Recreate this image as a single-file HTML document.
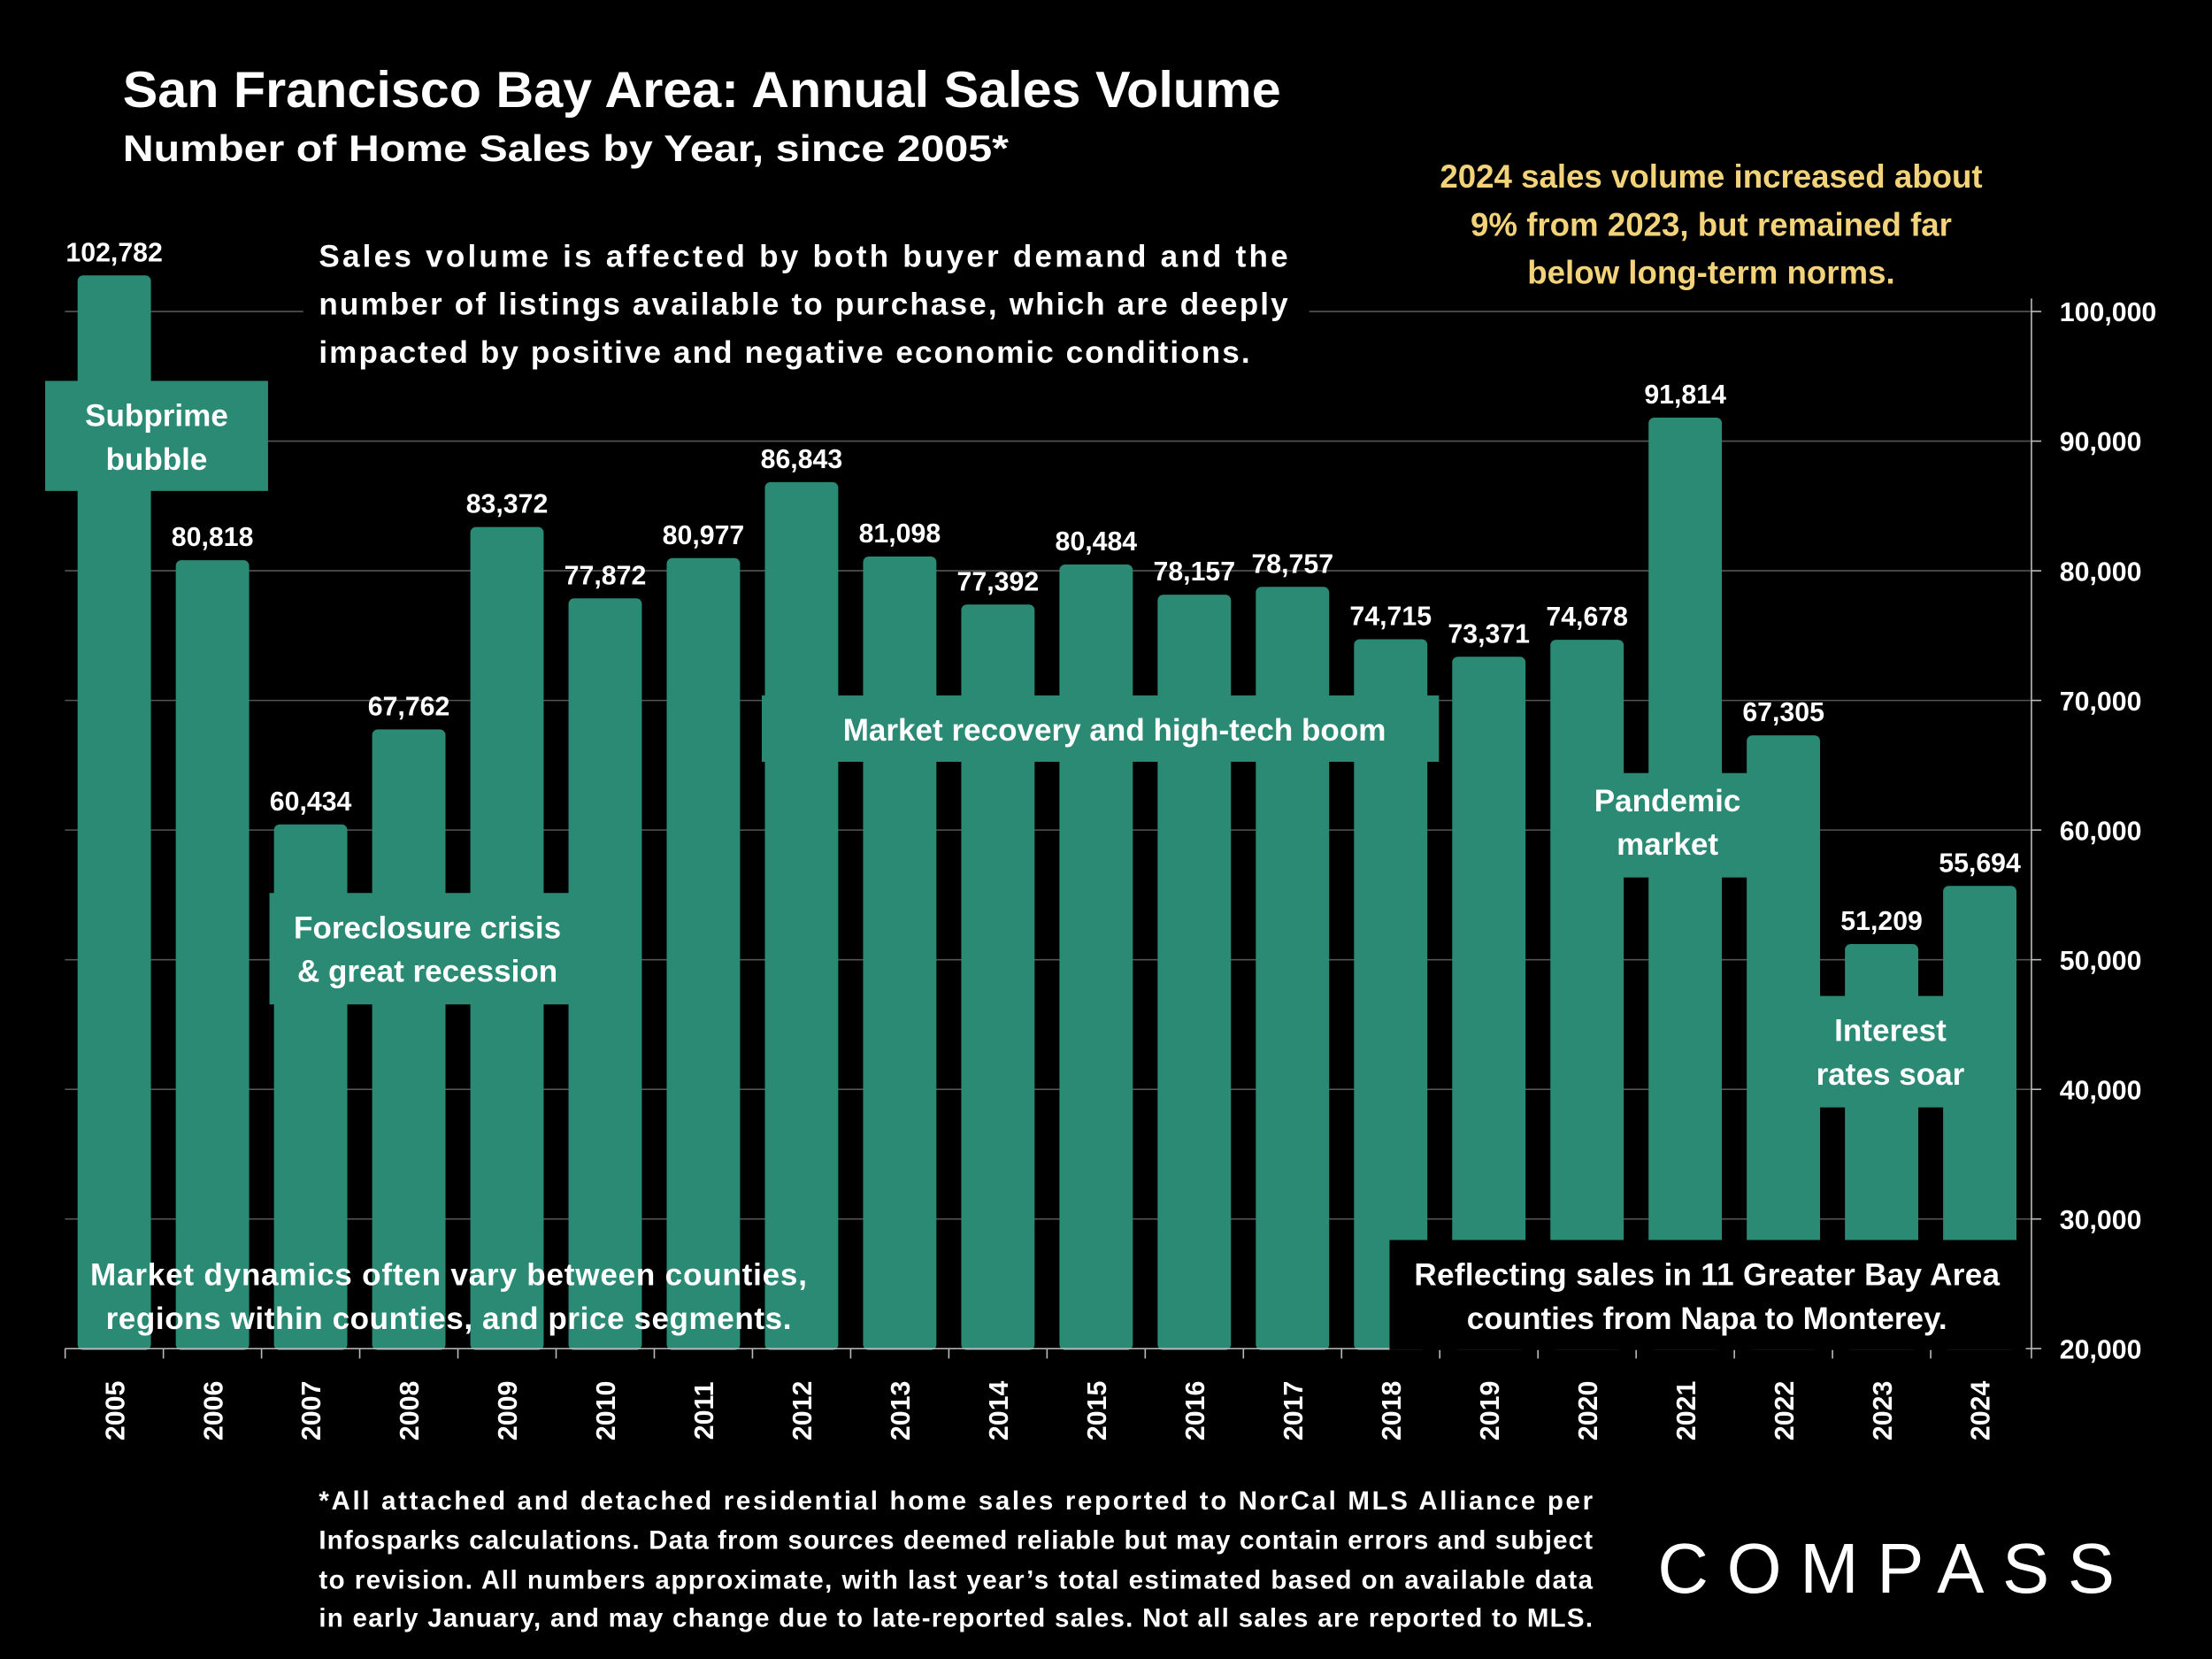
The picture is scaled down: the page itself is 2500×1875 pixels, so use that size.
<!DOCTYPE html>
<html><head><meta charset="utf-8"><style>
html,body{margin:0;padding:0;background:#000;}
svg{display:block;font-family:"Liberation Sans",Arial,sans-serif;font-weight:bold;}
</style></head><body>
<svg id="chart" width="2500" height="1875" viewBox="0 0 1568 1176" xmlns="http://www.w3.org/2000/svg">
<rect width="1568" height="1176" fill="#000"/>
<g id="grid"></g>
<g id="bars"></g>
<g id="axis"></g>
<g id="xlabels"></g>

<text x="87" y="76" fill="#fff" font-size="36" textLength="821" lengthAdjust="spacingAndGlyphs">San Francisco Bay Area:  Annual Sales Volume</text>
<text x="87" y="114" fill="#fff" font-size="26" textLength="628" lengthAdjust="spacingAndGlyphs">Number of Home Sales by Year, since 2005*</text>

<g fill="#f3d37a" font-size="23" text-anchor="middle">
<text x="1213" y="133">2024 sales volume increased about</text>
<text x="1213" y="167">9% from 2023, but remained far</text>
<text x="1213" y="201">below long-term norms.</text></g>

<g>
<rect x="215" y="163" width="713" height="102" fill="#000"/>
<g fill="#fff" font-size="22"><text x="226" y="189" textLength="687">Sales volume is affected by both buyer demand and the</text>
<text x="226" y="223" textLength="687">number of listings available to purchase, which are deeply</text>
<text x="226" y="257" textLength="660">impacted by positive and negative economic conditions.</text></g></g>

<g id="notes" fill="#fff" font-size="22" text-anchor="middle">
<g><rect x="32" y="270" width="158" height="78" fill="#2b8a74"/><text x="111" y="302">Subprime</text><text x="111" y="333">bubble</text></g>
<g><rect x="191" y="633" width="214" height="79" fill="#2b8a74"/><text x="303" y="665">Foreclosure crisis</text><text x="303" y="696">&amp; great recession</text></g>
<g><rect x="540" y="493" width="480" height="47" fill="#2b8a74"/><text x="790" y="525">Market recovery and high-tech boom</text></g>
<g><rect x="1118" y="548" width="127" height="74" fill="#2b8a74"/><text x="1182" y="575">Pandemic</text><text x="1182" y="606">market</text></g>
<g><rect x="1287" y="706" width="105" height="79" fill="#2b8a74"/><text x="1340" y="738">Interest</text><text x="1340" y="769">rates soar</text></g>
<g><text x="318" y="911" textLength="508">Market dynamics often vary between counties,</text><text x="318" y="942" textLength="486">regions within counties, and price segments.</text></g>
<g><rect x="985" y="879" width="451" height="78" fill="#000"/><text x="1210" y="911" textLength="415">Reflecting sales in 11 Greater Bay Area</text><text x="1210" y="942">counties from Napa to Monterey.</text></g>
</g>

<g fill="#fff" font-size="18.5">
<text x="226" y="1070" textLength="903">*All attached and detached residential home sales reported to NorCal MLS Alliance per</text>
<text x="226" y="1098" textLength="903">Infosparks calculations. Data from sources deemed reliable but may contain errors and subject</text>
<text x="226" y="1126" textLength="903">to revision. All numbers approximate, with last year’s total estimated based on available data</text>
<text x="226" y="1153" textLength="903">in early January, and may change due to late-reported sales. Not all sales are reported to MLS.</text></g>
<text x="1175" y="1129" fill="#fff" font-size="50" font-weight="normal" letter-spacing="6" textLength="330">COMPASS</text>
</svg>
<script>
const years=["2005","2006","2007","2008","2009","2010","2011","2012","2013","2014","2015","2016","2017","2018","2019","2020","2021","2022","2023","2024"];
const sales=[102782,80818,60434,67762,83372,77872,80977,86843,81098,77392,80484,78157,78757,74715,73371,74678,91814,67305,51209,55694];
const ticks=[20000,30000,40000,50000,60000,70000,80000,90000,100000];
const ns="http://www.w3.org/2000/svg";
const y=v=>956-(v-20000)*0.00919;
const x=i=>81+i*69.6;
function mk(t,a,p){const e=document.createElementNS(ns,t);for(const k in a)e.setAttribute(k,a[k]);p.appendChild(e);return e;}
const G=document.getElementById('grid'),B=document.getElementById('bars'),A=document.getElementById('axis'),X=document.getElementById('xlabels');
ticks.forEach(t=>{
 const l=mk('line',{x1:46,x2:1440,y1:y(t),y2:y(t),stroke:'#555','stroke-width':1},G);
 
 
 const tk=mk('line',{x1:1440,x2:1447,y1:y(t),y2:y(t),stroke:'#bbb'},A);
 
 
 const tx=mk('text',{x:1460,y:y(t)+7,fill:'#fff','font-size':19},A);
 tx.textContent=t.toLocaleString('en-US');
 
 
});
mk('line',{x1:1440,x2:1440,y1:y(101000),y2:y(20000),stroke:'#bbb'},A);
mk('line',{x1:46,x2:1440,y1:y(20000),y2:y(20000),stroke:'#bbb'},A);
sales.forEach((v,i)=>{
 const r=mk('rect',{x:x(i)-26,y:y(v),width:52,height:y(20000)-y(v)+1,rx:4,fill:'#2b8a74'},B);
 
 
 const t=mk('text',{x:x(i),y:y(v)-10,fill:'#fff','font-size':19,'text-anchor':'middle'},B);
 t.textContent=v.toLocaleString('en-US');
 
 
 const tk=mk('line',{x1:x(i)-34.8,x2:x(i)-34.8,y1:y(20000),y2:y(20000)+7,stroke:'#bbb'},X);
 
 
 const yl=mk('text',{x:0,y:0,fill:'#fff','font-size':19,'text-anchor':'middle',transform:`translate(${x(i)+7},1000) rotate(-90)`},X);
 yl.textContent=years[i];
 
 
});
mk('line',{x1:1440,x2:1440,y1:y(20000),y2:y(20000)+7,stroke:'#bbb'},X);
</script>
</body></html>
